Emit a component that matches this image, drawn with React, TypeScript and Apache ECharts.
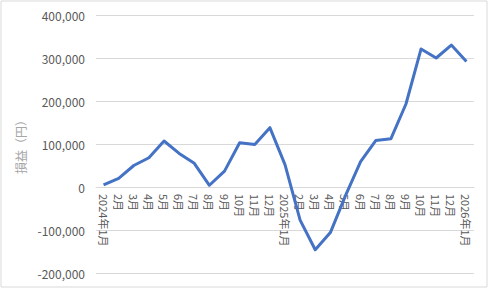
import React, { useEffect, useRef } from "react";
import * as echarts from "echarts";

const categories: string[] = [
  "2024年1月", "2月", "3月", "4月", "5月", "6月", "7月", "8月", "9月", "10月", "11月", "12月",
  "2025年1月", "2月", "3月", "4月", "5月", "6月", "7月", "8月", "9月", "10月", "11月", "12月",
  "2026年1月",
];

const profit: number[] = [
  5000, 20000, 50000, 68000, 107000, 78000, 55000, 4000, 37000, 103000, 99000, 138000,
  52000, -77000, -146000, -106000, -20000, 59000, 108000, 112000, 193000, 321000, 300000, 330000,
  292000,
];

const yAxisName = "損益（円）";
const yMin = -200000;
const yMax = 400000;
const yInterval = 100000;

const FONT = "'Noto Sans CJK JP', 'Noto Sans', sans-serif";

export default function App() {
  const ref = useRef<HTMLDivElement>(null);
  useEffect(() => {
    if (!ref.current) return;
    const chart = echarts.init(ref.current, undefined, { renderer: "svg" });
    chart.setOption({
      animation: false,
      backgroundColor: "#ffffff",
      textStyle: { fontFamily: FONT },
      graphic: [
        {
          type: "rect",
          shape: { x: 1, y: 1, width: 486, height: 286 },
          style: { fill: "none", stroke: "#D9D9D9", lineWidth: 1 },
          silent: true,
        },
      ],
      grid: {
        left: 96,
        right: 16,
        top: 15,
        bottom: 16,
        containLabel: false,
        outerBoundsMode: "none",
      },
      xAxis: {
        type: "category",
        data: categories,
        boundaryGap: true,
        offset: 0,
        axisLine: { onZero: false, lineStyle: { color: "#D9D9D9", width: 1 } },
        axisTick: { show: false },
        axisLabel: {
          interval: 0,
          rotate: -90,
          margin: 7,
          color: "#595959",
          fontSize: 11,
          fontFamily: FONT,
        },
        splitLine: { show: false },
      },
      yAxis: {
        type: "value",
        min: yMin,
        max: yMax,
        interval: yInterval,
        name: yAxisName,
        nameLocation: "middle",
        nameGap: 62,
        nameRotate: 90,
        nameTextStyle: { color: "#A6A6A6", fontSize: 12, fontFamily: FONT },
        axisLine: { show: false },
        axisTick: { show: false },
        axisLabel: {
          color: "#595959",
          fontSize: 12,
          margin: 11,
          fontFamily: FONT,
          formatter: (v: number) => v.toLocaleString("en-US"),
        },
        splitLine: { lineStyle: { color: "#D9D9D9", width: 1 } },
      },
      series: [
        {
          type: "line",
          data: profit,
          symbol: "none",
          lineStyle: { color: "#4472C4", width: 3, join: "round" },
          itemStyle: { color: "#4472C4" },
        },
      ],
    });
    const zeroY = chart.convertToPixel({ yAxisIndex: 0 }, 0) as number;
    const bottomY = chart.convertToPixel({ yAxisIndex: 0 }, yMin) as number;
    chart.setOption({ xAxis: { offset: -(bottomY - zeroY) } });
    return () => chart.dispose();
  }, []);
  return (
    <div
      ref={ref}
      style={{ position: "fixed", left: 0, top: 0, width: 490, height: 289 }}
    />
  );
}
